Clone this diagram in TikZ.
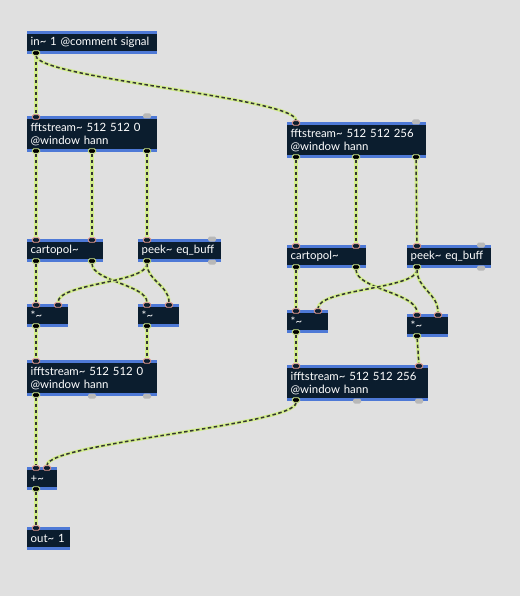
\documentclass[tikz,border=0pt]{standalone}
\usepackage{fontspec}
\newfontfamily\latofont{Lato}
\usepackage{xcolor}
\usepackage{tikz}
\pgfdeclarelayer{cables}
\pgfsetlayers{cables,main}
\definecolor{bggray}{HTML}{E0E0E0}
\definecolor{boxnavy}{HTML}{0B1D2E}
\definecolor{barblue}{HTML}{4E79D6}
\definecolor{cablegreen}{HTML}{D3EE8C}
\definecolor{dashgray}{HTML}{333333}
\definecolor{inpink}{HTML}{E89A8E}
\definecolor{portgray}{HTML}{B8B8B8}
\tikzstyle{maxobj} = [anchor=north west, fill=boxnavy, text=white, inner xsep=3.5pt, inner ysep=0pt, align=left,
  font=\latofont\fontsize{11.4}{13.3}\selectfont,
  path picture={
    \fill[barblue] (path picture bounding box.north west) rectangle ([yshift=-3pt]path picture bounding box.north east);
    \fill[barblue] (path picture bounding box.south west) rectangle ([yshift=3pt]path picture bounding box.south east);
  }]
\tikzstyle{sigin} = [rectangle, rounded corners=1.5pt, minimum width=7.5pt, minimum height=4.5pt, inner sep=0pt, draw=inpink, fill=boxnavy, line width=0.8pt]
\tikzstyle{sigout} = [sigin, draw=cablegreen, fill=black]
\tikzstyle{ctlport} = [sigin, draw=none, fill=portgray, minimum width=8pt, minimum height=5pt]
\tikzstyle{cable} = [draw=dashgray, line width=1.5pt, dash pattern=on 3.5pt off 2.5pt, preaction={draw=cablegreen, solid, line width=3.2pt}]

\begin{document}
\begin{tikzpicture}[x=1pt, y=-1pt]

        % Objects
        \node[maxobj, text width=123pt, minimum height=23pt] (in_sig) at (27,31) {in\char`~{} 1 @comment signal};
        \node[maxobj, text width=123pt, minimum height=36pt] (fft_l) at (27,116) {fftstream\char`~{} 512 512 0\\@window hann};
        \node[maxobj, text width=132pt, minimum height=36pt] (fft_r) at (287,122) {fftstream\char`~{} 512 512 256\\@window hann};
        \node[maxobj, text width=69pt, minimum height=23pt] (cart_l) at (27,239) {cartopol\char`~};
        \node[maxobj, text width=76pt, minimum height=23pt] (peek_l) at (138,239) {peek\char`~{} eq\_buff};
        \node[maxobj, text width=72pt, minimum height=23pt] (cart_r) at (287,245) {cartopol\char`~};
        \node[maxobj, text width=77pt, minimum height=23pt] (peek_r) at (407,245) {peek\char`~{} eq\_buff};
        \node[maxobj, text width=34pt, minimum height=23pt] (mul_l1) at (27,304) {*\char`~};
        \node[maxobj, text width=34pt, minimum height=23pt] (mul_l2) at (138,304) {*\char`~};
        \node[maxobj, text width=34pt, minimum height=23pt] (mul_r1) at (287,310) {*\char`~};
        \node[maxobj, text width=34pt, minimum height=23pt] (mul_r2) at (407,314) {*\char`~};
        \node[maxobj, text width=123pt, minimum height=36pt] (ifft_l) at (27,360) {ifftstream\char`~{} 512 512 0\\@window hann};
        \node[maxobj, text width=134pt, minimum height=36pt] (ifft_r) at (287,365) {ifftstream\char`~{} 512 512 256\\@window hann};
        \node[maxobj, text width=23pt, minimum height=23pt] (add) at (27,467) {+\char`~};
        \node[maxobj, text width=36pt, minimum height=23pt] (dac) at (27,527) {out\char`~{} 1};

        % Ports
        \node[sigout] (in_sig_out0) at (36,53) {};
        \node[sigin] (fft_l_in0) at (36,117) {};
        \node[ctlport] (fft_l_in1) at (147,116) {};
        \node[sigout] (fft_l_out0) at (36,151) {};
        \node[sigout] (fft_l_out1) at (92,151) {};
        \node[sigout] (fft_l_out2) at (147,151) {};
        \node[sigin] (fft_r_in0) at (296,123) {};
        \node[ctlport] (fft_r_in1) at (416,122) {};
        \node[sigout] (fft_r_out0) at (296,157) {};
        \node[sigout] (fft_r_out1) at (356,157) {};
        \node[sigout] (fft_r_out2) at (416,157) {};
        \node[sigin] (cart_l_in0) at (36,240) {};
        \node[sigin] (cart_l_in1) at (92,240) {};
        \node[sigout] (cart_l_out0) at (36,261) {};
        \node[sigout] (cart_l_out1) at (92,261) {};
        \node[sigin] (peek_l_in0) at (147,240) {};
        \node[ctlport] (peek_l_in1) at (212,239) {};
        \node[sigout] (peek_l_out0) at (147,261) {};
        \node[ctlport] (peek_l_out1) at (212,262) {};
        \node[sigin] (cart_r_in0) at (296,246) {};
        \node[sigin] (cart_r_in1) at (356,246) {};
        \node[sigout] (cart_r_out0) at (296,267) {};
        \node[sigout] (cart_r_out1) at (356,267) {};
        \node[sigin] (peek_r_in0) at (417,246) {};
        \node[ctlport] (peek_r_in1) at (481,245) {};
        \node[sigout] (peek_r_out0) at (417,267) {};
        \node[ctlport] (peek_r_out1) at (481,268) {};
        \node[sigin] (mul_l1_in0) at (36,305) {};
        \node[sigin] (mul_l1_in1) at (58,305) {};
        \node[sigout] (mul_l1_out0) at (36,326) {};
        \node[sigin] (mul_l2_in0) at (147,305) {};
        \node[sigin] (mul_l2_in1) at (169,305) {};
        \node[sigout] (mul_l2_out0) at (147,326) {};
        \node[sigin] (mul_r1_in0) at (296,311) {};
        \node[sigin] (mul_r1_in1) at (318,311) {};
        \node[sigout] (mul_r1_out0) at (296,332) {};
        \node[sigin] (mul_r2_in0) at (417,315) {};
        \node[sigin] (mul_r2_in1) at (438,315) {};
        \node[sigout] (mul_r2_out0) at (417,336) {};
        \node[sigin] (ifft_l_in0) at (36,361) {};
        \node[sigin] (ifft_l_in1) at (147,361) {};
        \node[sigout] (ifft_l_out0) at (36,395) {};
        \node[ctlport] (ifft_l_out1) at (92,396) {};
        \node[ctlport] (ifft_l_out2) at (147,396) {};
        \node[sigin] (ifft_r_in0) at (296,366) {};
        \node[sigin] (ifft_r_in1) at (419,366) {};
        \node[sigout] (ifft_r_out0) at (296,400) {};
        \node[ctlport] (ifft_r_out1) at (357,401) {};
        \node[ctlport] (ifft_r_out2) at (419,401) {};
        \node[sigin] (add_in0) at (36,468) {};
        \node[sigin] (add_in1) at (47,468) {};
        \node[sigout] (add_out0) at (36,489) {};
        \node[sigin] (dac_in0) at (36,528) {};

        \begin{pgfonlayer}{cables}
        \fill[bggray] (0,0) rectangle (520,596);

        % Cables, left chain
        \draw[cable] (in_sig_out0) -- (fft_l_in0);
        \draw[cable] (fft_l_out0) -- (cart_l_in0);
        \draw[cable] (fft_l_out1) -- (cart_l_in1);
        \draw[cable] (fft_l_out2) -- (peek_l_in0);
        \draw[cable] (cart_l_out0) -- (mul_l1_in0);
        \draw[cable] (cart_l_out1) .. controls +(0,20) and +(0,-20) .. (mul_l2_in0);
        \draw[cable] (peek_l_out0) .. controls +(0,22) and +(0,-22) .. (mul_l1_in1);
        \draw[cable] (peek_l_out0) .. controls +(0,20) and +(0,-20) .. (mul_l2_in1);
        \draw[cable] (mul_l1_out0) -- (ifft_l_in0);
        \draw[cable] (mul_l2_out0) -- (ifft_l_in1);
        \draw[cable] (ifft_l_out0) -- (add_in0);
        \draw[cable] (add_out0) -- (dac_in0);

        % Cables, right chain
        \draw[cable] (in_sig_out0) .. controls +(0,25) and +(0,-25) .. (fft_r_in0);
        \draw[cable] (fft_r_out0) -- (cart_r_in0);
        \draw[cable] (fft_r_out1) -- (cart_r_in1);
        \draw[cable] (fft_r_out2) -- (peek_r_in0);
        \draw[cable] (cart_r_out0) -- (mul_r1_in0);
        \draw[cable] (cart_r_out1) .. controls +(0,22) and +(0,-22) .. (mul_r2_in0);
        \draw[cable] (peek_r_out0) .. controls +(0,22) and +(0,-22) .. (mul_r1_in1);
        \draw[cable] (peek_r_out0) .. controls +(0,22) and +(0,-22) .. (mul_r2_in1);
        \draw[cable] (mul_r1_out0) -- (ifft_r_in0);
        \draw[cable] (mul_r2_out0) -- (ifft_r_in1);
        \draw[cable] (ifft_r_out0) .. controls +(0,25) and +(0,-25) .. (add_in1);
        \end{pgfonlayer}

\end{tikzpicture}
\end{document}
